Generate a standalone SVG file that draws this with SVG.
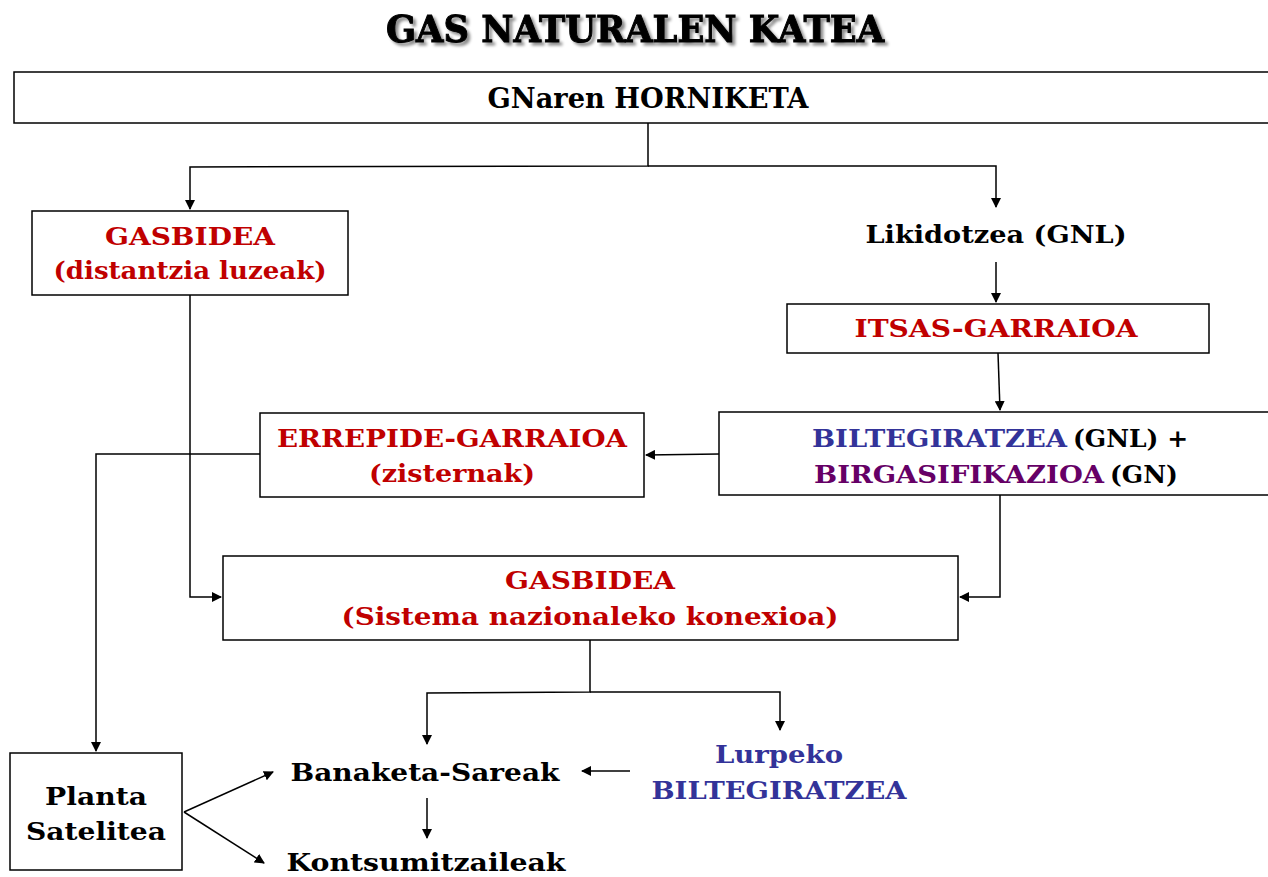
<svg xmlns="http://www.w3.org/2000/svg" width="1268" height="877" viewBox="0 0 1268 877">
<style>
.box{fill:#fff;stroke:#000;stroke-width:1.5}
.t{font-family:"DejaVu Serif","Liberation Serif",serif;font-weight:bold;font-size:25px;text-anchor:middle}
.red{fill:#C00000}
.blue{fill:#333399}
.purple{fill:#660066}
.blk{fill:#000}
.ln{fill:none;stroke:#000;stroke-width:1.5}
</style>
<defs>
<marker id="ah" markerWidth="10" markerHeight="10" refX="9" refY="5" orient="auto" markerUnits="userSpaceOnUse">
<path d="M0,0 L10,5 L0,10 Z" fill="#000"/>
</marker>
<filter id="sh" x="-5%" y="-20%" width="110%" height="150%">
<feGaussianBlur in="SourceAlpha" stdDeviation="1.5"/>
<feOffset dx="3" dy="3" result="b"/>
<feFlood flood-color="#000" flood-opacity="0.45"/>
<feComposite in2="b" operator="in"/>
<feMerge><feMergeNode/><feMergeNode in="SourceGraphic"/></feMerge>
</filter>
</defs>
<rect width="1268" height="877" fill="#fff"/>
<text x="635" y="42" class="t blk" style="font-size:37px;stroke:#000;stroke-width:1" textLength="498" lengthAdjust="spacingAndGlyphs" filter="url(#sh)">GAS NATURALEN KATEA</text>

<g id="connectors">
<polyline class="ln" points="648,123 648,166 190,167 190,209" marker-end="url(#ah)"/>
<polyline class="ln" points="648,166 996,166 996,207" marker-end="url(#ah)"/>
<line class="ln" x1="996" y1="262" x2="996" y2="302" marker-end="url(#ah)"/>
<line class="ln" x1="998" y1="353" x2="1000" y2="410" marker-end="url(#ah)"/>
<line class="ln" x1="719" y1="454" x2="646" y2="455" marker-end="url(#ah)"/>
<polyline class="ln" points="260,454 96,454 96,751" marker-end="url(#ah)"/>
<polyline class="ln" points="190,295 190,597 221,597" marker-end="url(#ah)"/>
<polyline class="ln" points="1000,495 1000,597 960,597" marker-end="url(#ah)"/>
<polyline class="ln" points="590,640 590,692 427,693 427,744" marker-end="url(#ah)"/>
<polyline class="ln" points="590,692 780,692 780,730" marker-end="url(#ah)"/>
<line class="ln" x1="630" y1="771" x2="582" y2="771" marker-end="url(#ah)"/>
<line class="ln" x1="427" y1="798" x2="427" y2="838" marker-end="url(#ah)"/>
<line class="ln" x1="184" y1="812" x2="273" y2="772" marker-end="url(#ah)"/>
<line class="ln" x1="184" y1="812" x2="264" y2="863" marker-end="url(#ah)"/>
</g>

<g id="horniketa">
<rect class="box" x="14" y="72" width="1260" height="51"/>
<text x="648" y="108" class="t blk" style="font-size:27px" textLength="321" lengthAdjust="spacingAndGlyphs">GNaren HORNIKETA</text>
</g>

<g id="gasbidea1">
<rect class="box" x="32" y="211" width="316" height="84"/>
<text x="190" y="245" class="t red" textLength="170" lengthAdjust="spacingAndGlyphs">GASBIDEA</text>
<text x="190" y="279" class="t red" textLength="273" lengthAdjust="spacingAndGlyphs">(distantzia luzeak)</text>
</g>

<g id="likidotzea">
<text x="996" y="243" class="t blk" textLength="261" lengthAdjust="spacingAndGlyphs">Likidotzea (GNL)</text>
</g>

<g id="itsas">
<rect class="box" x="787" y="304" width="422" height="49"/>
<text x="996" y="337" class="t red" textLength="283" lengthAdjust="spacingAndGlyphs">ITSAS-GARRAIOA</text>
</g>

<g id="biltegi">
<rect class="box" x="719" y="412" width="560" height="83"/>
<text x="812" y="447" class="t" style="text-anchor:start"><tspan class="blue" textLength="255" lengthAdjust="spacingAndGlyphs">BILTEGIRATZEA</tspan><tspan class="blk" dx="6">(GNL) +</tspan></text>
<text x="814" y="483" class="t" style="text-anchor:start"><tspan class="purple" textLength="290" lengthAdjust="spacingAndGlyphs">BIRGASIFIKAZIOA</tspan><tspan class="blk" dx="6">(GN)</tspan></text>
</g>

<g id="errepide">
<rect class="box" x="260" y="413" width="384" height="84"/>
<text x="452" y="447" class="t red" textLength="350" lengthAdjust="spacingAndGlyphs">ERREPIDE-GARRAIOA</text>
<text x="452" y="482" class="t red" textLength="166" lengthAdjust="spacingAndGlyphs">(zisternak)</text>
</g>

<g id="gasbidea2">
<rect class="box" x="223" y="556" width="735" height="84"/>
<text x="590" y="589" class="t red" textLength="170" lengthAdjust="spacingAndGlyphs">GASBIDEA</text>
<text x="590" y="625" class="t red" textLength="497" lengthAdjust="spacingAndGlyphs">(Sistema nazionaleko konexioa)</text>
</g>

<g id="planta">
<rect class="box" x="10" y="753" width="172" height="117"/>
<text x="96" y="805" class="t blk" textLength="102" lengthAdjust="spacingAndGlyphs">Planta</text>
<text x="96" y="840" class="t blk" textLength="140" lengthAdjust="spacingAndGlyphs">Satelitea</text>
</g>

<g id="banaketa">
<text x="425" y="781" class="t blk" textLength="269" lengthAdjust="spacingAndGlyphs">Banaketa-Sareak</text>
</g>

<g id="lurpeko">
<text x="779" y="763" class="t blue" textLength="128" lengthAdjust="spacingAndGlyphs">Lurpeko</text>
<text x="779" y="799" class="t blue" textLength="255" lengthAdjust="spacingAndGlyphs">BILTEGIRATZEA</text>
</g>

<g id="kontsumitzaileak">
<text x="426" y="871" class="t blk" textLength="279" lengthAdjust="spacingAndGlyphs">Kontsumitzaileak</text>
</g>
</svg>
